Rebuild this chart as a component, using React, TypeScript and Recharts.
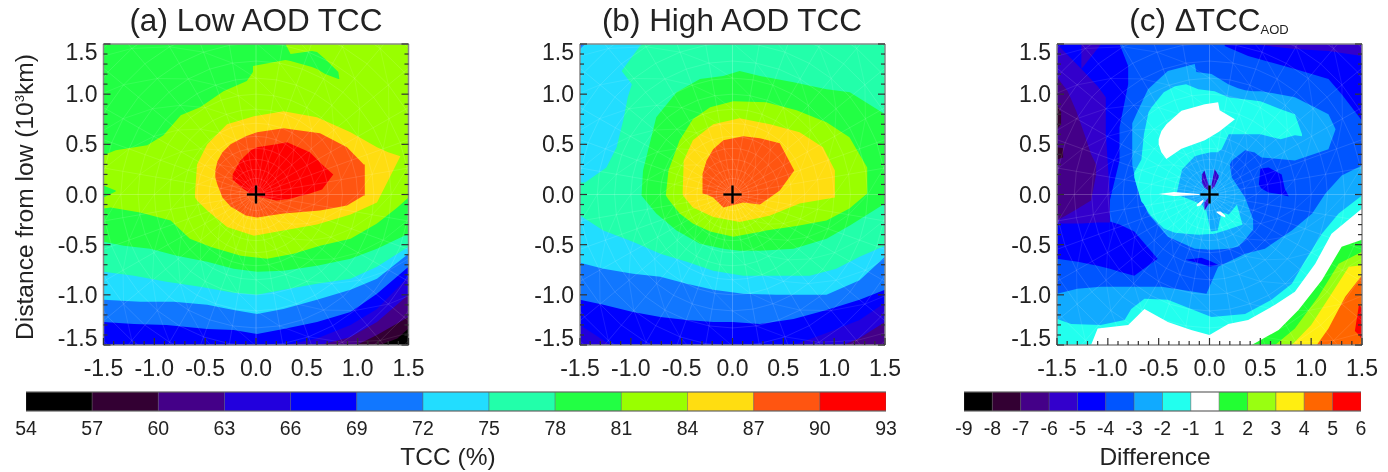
import { Area, Bar, BarChart, ComposedChart, ReferenceLine, XAxis, YAxis } from 'recharts'

type Row = [number, number, number]
type Pt = [number, number]
type Layer = { rows: Row[]; fill: string }

const tccColors = ['#000000', '#330033', '#440088', '#2200dd', '#0000ff', '#1177ff', '#22ddff', '#22ffaa', '#22ff44', '#99ff00', '#ffdd11', '#ff5511', '#ff0000']
const diffColors = ['#000000', '#330033', '#440088', '#3300cc', '#0000ff', '#0055ff', '#11aaff', '#22ffee', '#ffffff', '#22ff33', '#99ff11', '#ffee11', '#ff6600', '#ff0000']
const tccLabels = ['54', '57', '60', '63', '66', '69', '72', '75', '78', '81', '84', '87', '90', '93']
const diffLabels = ['-9', '-8', '-7', '-6', '-5', '-4', '-3', '-2', '-1', '1', '2', '3', '4', '5', '6']
const axisTicks = [-1.5, -1.4, -1.3, -1.2, -1.1, -1, -0.9, -0.8, -0.7, -0.6, -0.5, -0.4, -0.3, -0.2, -0.1, 0, 0.1, 0.2, 0.3, 0.4, 0.5, 0.6, 0.7, 0.8, 0.9, 1, 1.1, 1.2, 1.3, 1.4, 1.5]
const meshRadii = [0.08, 0.16, 0.25, 0.35, 0.46, 0.58, 0.71, 0.85, 1, 1.16, 1.33, 1.51, 1.7, 1.9, 2.1]
const meshAngles = [0, 10, 20, 30, 40, 50, 60, 70, 80, 90, 100, 110, 120, 130, 140, 150, 160, 170, 180, 190, 200, 210, 220, 230, 240, 250, 260, 270, 280, 290, 300, 310, 320, 330, 340, 350]

const full: Row[] = [[-1.5, -1.5, 1.5], [1.5, -1.5, 1.5]]
const floor = (pts: Pt[]): Row[] => pts.map(([x, y]) => [x, -1.5, y])

// (a) low AOD: x, lower edge, upper edge of every contour region
const lowTop78: Row[] = [[-1.5, 0.39, 1.5], [-1.38, 0.44, 1.5], [-1.07, 0.49, 1.5], [-0.91, 0.59, 1.5], [-0.74, 0.79, 1.5], [-0.55, 0.87, 1.5], [-0.32, 1.03, 1.5], [-0.09, 1.13, 1.5], [-0.03, 1.22, 1.5], [-0.03, 1.28, 1.5], [0.29, 1.34, 1.5], [0.34, 1.33, 1.4], [0.55, 1.27, 1.43], [0.6, 1.25, 1.42], [0.68, 1.2, 1.35], [0.81, 1.15, 1.22], [0.82, 1.15, 1.15]]
const lowSliver78: Row[] = [[-1.5, -0.03, 0.09], [-1.38, 0.03, 0.04]]
const lowFloor78 = floor([[-1.5, -0.14], [-1.43, -0.13], [-1.14, -0.18], [-0.84, -0.26], [-0.65, -0.44], [-0.45, -0.52], [-0.15, -0.61], [0.11, -0.64], [0.37, -0.59], [0.63, -0.51], [0.93, -0.44], [1.19, -0.29], [1.39, -0.13], [1.5, -0.03]])
const lowFloor75 = floor([[-1.5, -0.47], [-1.3, -0.51], [-1.04, -0.54], [-0.78, -0.61], [-0.48, -0.67], [-0.22, -0.74], [0.01, -0.77], [0.27, -0.76], [0.6, -0.71], [0.93, -0.64], [1.19, -0.54], [1.5, -0.39]])
const lowFloor72 = floor([[-1.5, -0.77], [-1.2, -0.81], [-0.88, -0.87], [-0.55, -0.92], [-0.22, -0.98], [0.01, -1], [0.27, -0.95], [0.6, -0.89], [0.93, -0.84], [1.19, -0.72], [1.5, -0.52]])
const lowFloor69 = floor([[-1.5, -1.05], [-1.14, -1.07], [-0.81, -1.07], [-0.48, -1.1], [-0.22, -1.15], [0.01, -1.19], [0.27, -1.14], [0.6, -1.05], [0.93, -0.95], [1.19, -0.84], [1.5, -0.59]])
const lowFloor66 = floor([[-1.5, -1.27], [-1.2, -1.29], [-0.88, -1.3], [-0.48, -1.34], [-0.22, -1.35], [0.01, -1.39], [0.27, -1.34], [0.6, -1.27], [0.93, -1.17], [1.19, -0.99], [1.5, -0.72]])
const lowFloor63 = floor([[0.3, -1.5], [0.6, -1.435], [0.93, -1.3], [1.19, -1.14], [1.5, -0.82]])
const lowFloor60 = floor([[0.63, -1.5], [0.93, -1.42], [1.19, -1.27], [1.5, -1]])
const lowFloor57 = floor([[0.99, -1.5], [1.19, -1.4], [1.5, -1.22]])
const lowFloor54 = floor([[1.22, -1.5], [1.39, -1.435], [1.5, -1.335]])
const lowCore84: Row[] = [[-0.6, -0.03, 0.02], [-0.58, -0.06, 0.3], [-0.48, -0.16, 0.5], [-0.285, -0.325, 0.7], [-0.02, -0.41, 0.78], [0.27, -0.36, 0.83], [0.6, -0.3, 0.77], [0.93, -0.2, 0.62], [1.19, -0.08, 0.47], [1.3, 0.14, 0.42], [1.42, 0.38, 0.38]]
const lowCore87: Row[] = [[-0.4, 0.17, 0.24], [-0.38, 0.1, 0.33], [-0.33, -0.03, 0.42], [-0.25, -0.12, 0.5], [-0.1, -0.21, 0.58], [0.01, -0.23, 0.62], [0.27, -0.19, 0.66], [0.63, -0.16, 0.61], [0.895, -0.11, 0.47], [1.06, -0.01, 0.3], [1.07, -0.01, 0.3]]
const lowCore90: Row[] = [[-0.23, 0.15, 0.2], [-0.154, 0.08, 0.34], [-0.05, 0, 0.44], [0.01, -0.02, 0.47], [0.2, -0.06, 0.5], [0.305, -0.05, 0.52], [0.53, 0.01, 0.42], [0.65, 0.05, 0.3], [0.76, 0.2, 0.2]]

// (b) high AOD
const highTop72: Row[] = [[-1.5, 0.12, 1.5], [-1.45, 0.12, 1.5], [-1.24, 0.27, 1.5], [-1.14, 0.47, 1.5], [-1.075, 0.74, 1.5], [-1.03, 0.97, 1.5], [-0.99, 1.1, 1.5], [-0.89, 1.5, 1.5]]
const highWedge75: Row[] = [[-1.09, 1.23, 1.23], [-0.99, 1.1, 1.37], [-0.91, 1.1, 1.48], [-0.89, 1.3, 1.5]]
const highCorner: Row[] = [[-1.5, 1.45, 1.5], [-1.45, 1.5, 1.5]]
const highCore78: Row[] = [[-0.895, -0.01, -0.01], [-0.88, -0.03, 0.24], [-0.75, -0.19, 0.77], [-0.55, -0.36, 1.02], [-0.32, -0.49, 1.15], [-0.09, -0.54, 1.18], [0.07, -0.56, 1.23], [0.27, -0.56, 1.18], [0.6, -0.54, 1.12], [0.925, -0.44, 1.05], [1.154, -0.31, 1.02], [1.5, -0.09, 0.8]]
const highCore81: Row[] = [[-0.655, -0.01, 0], [-0.63, -0.05, 0.24], [-0.52, -0.19, 0.54], [-0.39, -0.29, 0.75], [-0.22, -0.37, 0.87], [0.007, -0.42, 0.93], [0.33, -0.36, 0.92], [0.63, -0.315, 0.84], [0.925, -0.26, 0.72], [1.15, -0.14, 0.57], [1.325, 0.01, 0.27]]
const highCore84: Row[] = [[-0.49, 0, 0.02], [-0.48, -0.02, 0.34], [-0.39, -0.13, 0.54], [-0.19, -0.225, 0.7], [0.07, -0.275, 0.76], [0.37, -0.21, 0.7], [0.66, -0.09, 0.62], [0.89, -0.05, 0.47], [1.007, -0.03, 0.24]]
const highCore87: Row[] = [[-0.295, 0.01, 0.205], [-0.255, 0, 0.34], [-0.19, -0.03, 0.45], [-0.09, -0.13, 0.54], [0.105, -0.08, 0.58], [0.27, -0.1, 0.56], [0.465, 0.04, 0.51], [0.607, 0.24, 0.24]]
const highFloor72 = floor([[-1.5, -0.21], [-1.27, -0.36], [-0.98, -0.47], [-0.71, -0.59], [-0.45, -0.67], [-0.19, -0.76], [0.105, -0.81], [0.43, -0.81], [0.76, -0.81], [1.02, -0.74], [1.25, -0.62], [1.5, -0.51]])
const highFloor69 = floor([[-1.5, -0.68], [-1.27, -0.74], [-0.98, -0.79], [-0.71, -0.82], [-0.45, -0.89], [-0.19, -0.95], [0.105, -0.99], [0.43, -1], [0.925, -1], [1.25, -0.855], [1.5, -0.62]])
const highFloor66 = floor([[-1.5, -1.05], [-1.27, -1.1], [-0.98, -1.17], [-0.71, -1.22], [-0.45, -1.25], [-0.19, -1.27], [0, -1.27], [0.27, -1.29], [0.6, -1.24], [0.925, -1.15], [1.25, -1.05], [1.5, -0.95]])
const highFloor63 = floor([[0.6, -1.5], [0.925, -1.38], [1.25, -1.25], [1.5, -1.08]])
const highFloor60 = floor([[1.09, -1.5], [1.25, -1.43], [1.5, -1.27]])
const highLeft63 = floor([[-1.5, -1.3], [-1.2, -1.5]])

// (c) difference
const diffLeft5: Row[] = [[-1.5, -0.64, 1.5], [-1.296, -0.67, 1.5], [-1.1, -0.71, 1.5], [-0.98, -0.74, 1.5], [-0.98, -0.06, 1.5], [-0.885, 0.34, 1.5], [-0.885, 0.67, 1.5], [-0.8, 1.1, 1.28], [-0.8, 1.2, 1.2]]
const diffBlob5: Row[] = [[-0.98, -0.74, -0.27], [-0.885, -0.77, -0.3], [-0.74, -0.81, -0.37], [-0.51, -0.64, -0.64]]
const diffTopRight5: Row[] = [[0.15, 1.48, 1.5], [0.38, 1.38, 1.5], [0.84, 1.25, 1.5], [1.17, 1.15, 1.5], [1.3, 1, 1.5], [1.5, 0.735, 1.5]]
const diffInner5: Row[] = [[0.44, 0.17, 0.24], [0.51, 0.06, 0.26], [0.58, 0.02, 0.27], [0.71, 0, 0.2], [0.74, -0.01, 0.06], [0.78, -0.02, -0.02]]
const diffBelow5: Row[] = [[-0.24, -0.65, -0.65], [-0.08, -0.69, -0.63], [0, -0.72, -0.66], [0.085, -0.7, -0.7]]
const diffLeft6: Row[] = [[-1.5, -0.29, 1.5], [-1.26, -0.29, 1.25], [-1.1, -0.28, 1.08], [-1.02, -0.28, 0.97], [-1.02, -0.28, 0.6], [-0.98, -0.28, 0], [-0.98, -0.28, -0.28]]
const diffCorner6: Row[] = [[-1.26, 1.25, 1.5], [-1.066, 1.5, 1.5]]
const diffTop6: Row[] = [[0.5, 1.49, 1.5], [0.84, 1.45, 1.5], [1.17, 1.43, 1.5], [1.5, 1.38, 1.5]]
const diffLeft7: Row[] = [[-1.5, -0.26, 1.17], [-1.395, -0.2, 1.03], [-1.31, -0.15, 0.83], [-1.23, -0.1, 0.6], [-1.165, -0.06, 0.4], [-1.115, 0.2, 0.3]]
const diffEdge8a: Row[] = [[-1.5, 0.65, 0.9], [-1.46, 0.7, 0.82]]
const diffEdge8b: Row[] = [[-1.5, 0.35, 0.47], [-1.44, 0.37, 0.46]]
const diffRing3: Row[] = [[-0.76, 0.3, 0.71], [-0.72, 0.1, 0.8], [-0.605, -0.19, 1.05], [-0.41, -0.42, 1.23], [-0.145, -0.54, 1.3], [-0.13, -0.54, 1.22], [0.02, -0.55, 1.2], [0.185, -0.54, 1.1], [0.28, -0.52, 1.06], [0.35, -0.45, 1.04], [0.43, -0.35, 1.03], [0.43, 0.4, 1.03], [0.51, 0.37, 1.03], [0.84, 0.34, 0.97], [1.17, 0.45, 0.8], [1.24, 0.65, 0.65]]
const diffArc2: Row[] = [[-0.74, 0.17, 0.22], [-0.67, -0.07, 0.35], [-0.645, -0.1, 0.6], [-0.6, -0.18, 0.82], [-0.57, -0.22, 0.87], [-0.45, -0.34, 1.02], [-0.34, -0.38, 1.08], [-0.23, -0.39, 1.1], [-0.11, -0.4, 1.05], [0.05, -0.39, 1.03], [0.185, -0.35, 0.97], [0.33, -0.3, 0.95], [0.34, 0.6, 0.95], [0.5, 0.6, 0.93], [0.7, 0.55, 0.85], [0.84, 0.59, 0.8], [0.91, 0.58, 0.6]]
const diffCentre3: Row[] = [[-0.325, 0, 0], [-0.27, -0.02, 0.25], [-0.145, -0.07, 0.38], [-0.075, -0.1, 0.4], [-0.03, -0.17, 0.41], [0.013, -0.37, 0.42], [0.08, -0.36, 0.42], [0.12, -0.18, 0.45], [0.19, -0.2, 0.6], [0.27, -0.1, 0.6], [0.33, -0.32, 0.6], [0.35, -0.32, 0.6]]
const diffCentre4: Row[] = [[0.2, 0.3, 0.3], [0.22, 0.17, 0.34], [0.35, -0.03, 0.44], [0.43, -0.25, 0.42], [0.44, -0.35, 0.42], [0.51, 0.35, 0.37]]
const diffWhiteBlob: Row[] = [[-0.5, 0.5, 0.55], [-0.474, 0.42, 0.63], [-0.424, 0.355, 0.7], [-0.276, 0.455, 0.835], [-0.046, 0.54, 0.9], [0.085, 0.62, 0.92], [0.1, 0.63, 0.84], [0.25, 0.75, 0.75]]
const diffSliver: Row[] = [[-0.5, 0.005, 0.005], [-0.35, -0.015, 0.025], [-0.1, -0.005, 0.005]]
const diffSpikeA: Row[] = [[-0.075, 0.12, 0.2], [-0.05, 0.07, 0.24], [-0.01, 0.04, 0.1]]
const diffSpikeB: Row[] = [[0.02, 0.05, 0.1], [0.05, 0.08, 0.255], [0.09, 0.17, 0.19]]
const diffSpikeC: Row[] = [[-0.05, -0.16, -0.08], [-0.01, -0.1, -0.03]]
const diffWhiteA: Row[] = [[-0.125, -0.12, -0.1], [-0.09, -0.11, -0.07], [-0.06, -0.07, -0.05]]
const diffWhiteB: Row[] = [[0.07, -0.18, -0.17], [0.11, -0.21, -0.17], [0.155, -0.23, -0.21]]
const diffFloor3 = floor([[-1.5, -0.99], [-1.3, -0.94], [-1.07, -0.92], [-0.8, -0.92], [-0.47, -0.92], [-0.03, -0.99], [0.085, -0.72], [0.35, -0.59], [0.545, -0.54], [0.81, -0.36], [1.01, -0.19], [1.14, 0.01], [1.3, 0.19], [1.5, 0.29]])
const diffFloor2 = floor([[-1.5, -1.24], [-1.36, -1.29], [-1.07, -1.3], [-0.835, -1.25], [-0.77, -1.14], [-0.64, -1.04], [-0.41, -1.05], [-0.18, -1.14], [0.02, -1.22], [0.35, -1.19], [0.61, -1.05], [0.81, -0.89], [0.94, -0.66], [1.105, -0.39], [1.27, -0.19], [1.5, -0.01]])
const diffFloor1 = floor([[-1.165, -1.5], [-1.1, -1.335], [-0.8, -1.3], [-0.64, -1.14], [-0.41, -1.27], [-0.18, -1.35], [0, -1.4], [0.185, -1.29], [0.38, -1.25], [0.645, -1.1], [0.84, -0.97], [1.04, -0.69], [1.2, -0.39], [1.5, -0.14]])
const diffFloorP1 = floor([[0.415, -1.5], [0.68, -1.35], [0.875, -1.15], [1.105, -0.855], [1.3, -0.52], [1.5, -0.45]])
const diffFloorP2 = floor([[0.645, -1.5], [0.84, -1.335], [1.07, -1.02], [1.27, -0.69], [1.5, -0.57]])
const diffFloorP3 = floor([[0.81, -1.5], [1, -1.3], [1.2, -0.99], [1.37, -0.72], [1.5, -0.705]])
const diffFloorP4 = floor([[1.055, -1.5], [1.17, -1.335], [1.335, -1.02], [1.5, -0.805]])
const diffEdgeP5: Row[] = [[1.43, -1.36, -1.36], [1.47, -1.4, -1.1], [1.5, -1.45, -1.13]]

const [c54, c57, c60, c63, c66, c69, c72, c75, c78, c81, c84, c87, c90] = tccColors
const [, d8, d7, d6, d5, d4, d3, d2, d1, p1, p2, p3, p4, p5] = diffColors

const lowLayers: Layer[] = [
  { rows: full, fill: c81 },
  { rows: lowTop78, fill: c78 },
  { rows: lowSliver78, fill: c78 },
  { rows: lowFloor78, fill: c78 },
  { rows: lowFloor75, fill: c75 },
  { rows: lowFloor72, fill: c72 },
  { rows: lowFloor69, fill: c69 },
  { rows: lowFloor66, fill: c66 },
  { rows: lowFloor63, fill: c63 },
  { rows: lowFloor60, fill: c60 },
  { rows: lowFloor57, fill: c57 },
  { rows: lowFloor54, fill: c54 },
  { rows: lowCore84, fill: c84 },
  { rows: lowCore87, fill: c87 },
  { rows: lowCore90, fill: c90 },
]

const highLayers: Layer[] = [
  { rows: full, fill: c75 },
  { rows: highTop72, fill: c72 },
  { rows: highWedge75, fill: c75 },
  { rows: highCorner, fill: c69 },
  { rows: highCore78, fill: c78 },
  { rows: highCore81, fill: c81 },
  { rows: highCore84, fill: c84 },
  { rows: highCore87, fill: c87 },
  { rows: highFloor72, fill: c72 },
  { rows: highFloor69, fill: c69 },
  { rows: highFloor66, fill: c66 },
  { rows: highFloor63, fill: c63 },
  { rows: highLeft63, fill: c63 },
  { rows: highFloor60, fill: c60 },
]

const diffLayers: Layer[] = [
  { rows: full, fill: d4 },
  { rows: diffLeft5, fill: d5 },
  { rows: diffBlob5, fill: d5 },
  { rows: diffTopRight5, fill: d5 },
  { rows: diffInner5, fill: d5 },
  { rows: diffBelow5, fill: d5 },
  { rows: diffLeft6, fill: d6 },
  { rows: diffCorner6, fill: d6 },
  { rows: diffTop6, fill: d6 },
  { rows: diffLeft7, fill: d7 },
  { rows: diffEdge8a, fill: d8 },
  { rows: diffEdge8b, fill: d8 },
  { rows: diffRing3, fill: d3 },
  { rows: diffArc2, fill: d2 },
  { rows: diffCentre3, fill: d3 },
  { rows: diffCentre4, fill: d4 },
  { rows: diffWhiteBlob, fill: d1 },
  { rows: diffSliver, fill: d1 },
  { rows: diffSpikeA, fill: d6 },
  { rows: diffSpikeB, fill: d6 },
  { rows: diffSpikeC, fill: d6 },
  { rows: diffWhiteA, fill: d1 },
  { rows: diffWhiteB, fill: d1 },
  { rows: diffFloor3, fill: d3 },
  { rows: diffFloor2, fill: d2 },
  { rows: diffFloor1, fill: d1 },
  { rows: diffFloorP1, fill: p1 },
  { rows: diffFloorP2, fill: p2 },
  { rows: diffFloorP3, fill: p3 },
  { rows: diffFloorP4, fill: p4 },
  { rows: diffEdgeP5, fill: p5 },
]

const FONT = '"Liberation Sans", Arial, sans-serif'
const CHART_W = 470
const CHART_H = 390
const PLOT_W = 305
const PLOT_H = 301
const INK = '#222'

const isMajor = (v: number) => Math.abs(v * 2 - Math.round(v * 2)) < 1e-6

const tickLabel = (v: number) => v.toFixed(1)

const BottomTick = ({ x, y, payload }: any) => {
  const major = isMajor(payload.value)
  return (
    <g>
      <line x1={x} x2={x} y1={y} y2={y - (major ? 7 : 4)} stroke="#333" strokeWidth={1.2} />
      {major && <text x={x} y={y + 31} textAnchor="middle" fontSize={23} fontFamily={FONT} fill={INK}>{tickLabel(payload.value)}</text>}
    </g>
  )
}

const TopTick = ({ x, y, payload }: any) => (
  <line x1={x} x2={x} y1={y} y2={y + (isMajor(payload.value) ? 7 : 4)} stroke="#333" strokeWidth={1.2} />
)

const LeftTick = ({ x, y, payload }: any) => {
  const major = isMajor(payload.value)
  const v = payload.value
  const shift = v === 1.5 ? 8 : v === -1.5 ? -7 : 0
  return (
    <g>
      <line x1={x} x2={x + (major ? 7 : 4)} y1={y} y2={y} stroke="#333" strokeWidth={1.2} />
      {major && <text x={x - 6} y={y + 8 + shift} textAnchor="end" fontSize={23} fontFamily={FONT} fill={INK}>{tickLabel(v)}</text>}
    </g>
  )
}

const RightTick = ({ x, y, payload }: any) => (
  <line x1={x} x2={x - (isMajor(payload.value) ? 7 : 4)} y1={y} y2={y} stroke="#333" strokeWidth={1.2} />
)

const meshSegments = () => {
  const segs: { a: Pt; b: Pt; o: number }[] = []
  const at = (r: number, deg: number): Pt => [r * Math.cos((deg * Math.PI) / 180), r * Math.sin((deg * Math.PI) / 180)]
  meshAngles.forEach((deg, i) => {
    const next = meshAngles[(i + 1) % meshAngles.length]
    segs.push({ a: at(0, deg), b: at(2.1, deg), o: deg % 90 === 0 ? 0.28 : 0.15 })
    meshRadii.forEach((r, j) => {
      segs.push({ a: at(r, deg), b: at(r, next), o: 0.15 })
      const outer = meshRadii[j + 1]
      if (outer && (i + j) % 2 === 0) segs.push({ a: at(r, deg), b: at(outer, next), o: 0.12 })
    })
  })
  return segs
}
const mesh = meshSegments()

const Panel = ({ layers, left, plotLeft }: { layers: Layer[]; left: number; plotLeft: number }) => (
  <div style={{ position: 'absolute', left, top: 0 }}>
    <ComposedChart
      width={CHART_W}
      height={CHART_H}
      margin={{ left: plotLeft - left - 1, top: 43, right: CHART_W - (plotLeft - left) - PLOT_W - 1, bottom: CHART_H - 44 - PLOT_H - 1 }}
    >
      <XAxis type="number" dataKey="x" domain={[-1.5, 1.5]} ticks={axisTicks} interval={0} height={1} tickSize={0} tickMargin={0} tickLine={false} stroke="#888" strokeWidth={1.5} tick={<BottomTick />} allowDataOverflow />
      <XAxis xAxisId="top" orientation="top" type="number" domain={[-1.5, 1.5]} ticks={axisTicks} interval={0} height={1} tickSize={0} tickMargin={0} tickLine={false} stroke="#888" strokeWidth={1.5} tick={<TopTick />} allowDataOverflow />
      <YAxis type="number" domain={[-1.5, 1.5]} ticks={axisTicks} interval={0} width={1} tickSize={0} tickMargin={0} tickLine={false} stroke="#888" strokeWidth={1.5} tick={<LeftTick />} allowDataOverflow />
      <YAxis yAxisId="right" orientation="right" type="number" domain={[-1.5, 1.5]} ticks={axisTicks} interval={0} width={1} tickSize={0} tickMargin={0} tickLine={false} stroke="#888" strokeWidth={1.5} tick={<RightTick />} allowDataOverflow />
      {layers.map((layer, i) => (
        <Area
          key={i}
          data={layer.rows.map(([x, lo, hi]) => ({ x, range: [lo, hi] }))}
          dataKey="range"
          type="linear"
          stroke="none"
          fill={layer.fill}
          fillOpacity={1}
          dot={false}
          activeDot={false}
          isAnimationActive={false}
        />
      ))}
      {mesh.map((s, i) => (
        <ReferenceLine
          key={i}
          segment={[{ x: s.a[0], y: s.a[1] }, { x: s.b[0], y: s.b[1] }]}
          stroke="#ffffff"
          strokeOpacity={s.o}
          strokeWidth={0.8}
          ifOverflow="hidden"
        />
      ))}
      <ReferenceLine segment={[{ x: -0.09, y: 0 }, { x: 0.09, y: 0 }]} stroke="#000" strokeWidth={2.4} />
      <ReferenceLine segment={[{ x: 0, y: -0.09 }, { x: 0, y: 0.09 }]} stroke="#000" strokeWidth={2.4} />
    </ComposedChart>
  </div>
)

const ColorBar = ({ colors, labels, left, width }: { colors: string[]; labels: string[]; left: number; width: number }) => {
  const row: Record<string, number | string> = { name: 'bar' }
  colors.forEach((_, i) => { row[`s${i}`] = 1 })
  const ticks = labels.map((_, i) => i)
  return (
    <div style={{ position: 'absolute', left: left - 30, top: 380 }}>
      <BarChart width={width + 60} height={70} layout="vertical" data={[row]} barCategoryGap={0} margin={{ left: 30, right: 30, top: 11, bottom: 38 }}>
        <XAxis
          type="number"
          domain={[0, colors.length]}
          ticks={ticks}
          interval={0}
          height={1}
          tickSize={0}
          tickMargin={0}
          tickLine={false}
          stroke="#666"
          allowDataOverflow
          tick={({ x, y, payload }: any) => (
            <text x={x} y={y + 24} textAnchor="middle" fontSize={19.5} fontFamily={FONT} fill={INK}>{labels[payload.value]}</text>
          )}
        />
        <XAxis xAxisId="top" orientation="top" type="number" domain={[0, colors.length]} height={1} tick={false} tickLine={false} stroke="#666" allowDataOverflow />
        <YAxis type="category" dataKey="name" width={0} hide />
        {colors.map((c, i) => (
          <Bar key={i} dataKey={`s${i}`} stackId="bar" fill={c} stroke="#555" strokeWidth={0.4} isAnimationActive={false} />
        ))}
      </BarChart>
    </div>
  )
}

const Caption = ({ x, y, size, children }: any) => (
  <div style={{ position: 'absolute', left: x - 200, top: y, width: 400, textAlign: 'center', fontFamily: FONT, fontSize: size, lineHeight: 1, color: INK, whiteSpace: 'nowrap' }}>
    {children}
  </div>
)

export default function App() {
  return (
    <div style={{ position: 'absolute', left: 0, top: 0, width: 1388, height: 472, background: '#fff', overflow: 'hidden', filter: 'blur(0.5px)' }}>
      <Caption x={256} y={5} size={31.5}>(a) Low AOD TCC</Caption>
      <Caption x={732} y={5} size={31.5}>(b) High AOD TCC</Caption>
      <Caption x={1209} y={5} size={31.5}>(c) ΔTCC<span style={{ fontSize: 13, position: 'relative', top: 3 }}>AOD</span></Caption>
      <div style={{ position: 'absolute', left: 25, top: 197, width: 340, height: 28, marginLeft: -170, marginTop: -14, textAlign: 'center', transform: 'rotate(-90deg)', fontFamily: FONT, fontSize: 24.6, lineHeight: '28px', color: INK, whiteSpace: 'nowrap' }}>
        Distance from low (10<span style={{ fontSize: 13, position: 'relative', top: -9 }}>3</span>km)
      </div>
      <Panel layers={lowLayers} left={0} plotLeft={103.5} />
      <Panel layers={highLayers} left={465} plotLeft={580} />
      <Panel layers={diffLayers} left={918} plotLeft={1057} />
      <ColorBar colors={tccColors} labels={tccLabels} left={25.5} width={860} />
      <ColorBar colors={diffColors} labels={diffLabels} left={964} width={397} />
      <Caption x={448} y={445} size={24.5}>TCC (%)</Caption>
      <Caption x={1155} y={445} size={24.5}>Difference</Caption>
    </div>
  )
}
